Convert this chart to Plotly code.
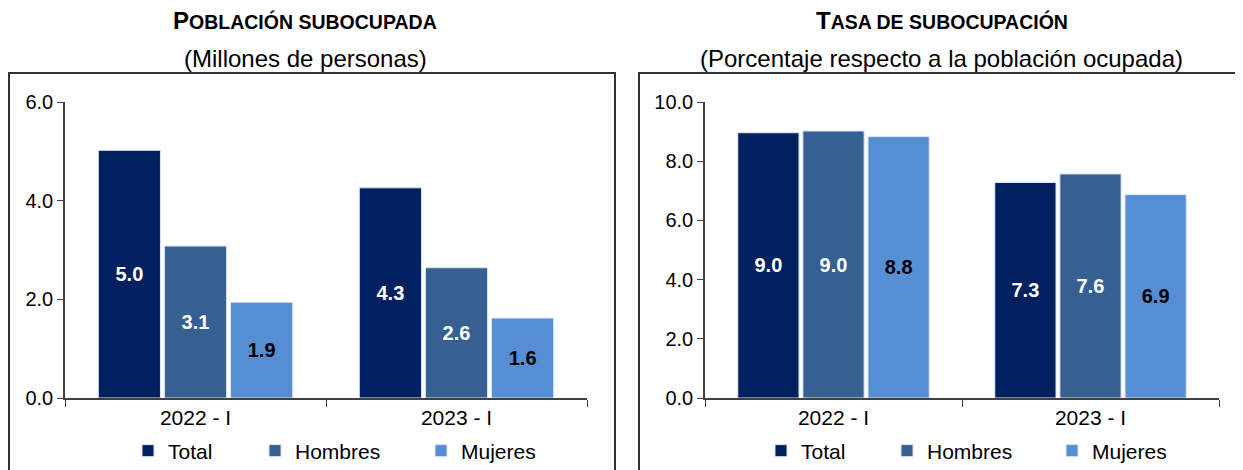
import plotly.graph_objects as go

categories = ["2022 - I", "2023 - I"]
series_names = ["Total", "Hombres", "Mujeres"]
colors = ["#002060", "#366092", "#558ED5"]
text_colors = ["white", "white", "black"]

poblacion_total = [5.02, 4.26]
poblacion_hombres = [3.08, 2.64]
poblacion_mujeres = [1.94, 1.62]

tasa_total = [8.96, 7.28]
tasa_hombres = [9.02, 7.57]
tasa_mujeres = [8.83, 6.87]

left_values = [poblacion_total, poblacion_hombres, poblacion_mujeres]
right_values = [tasa_total, tasa_hombres, tasa_mujeres]

W, H = 1243, 470
OFF = 8  # default page body margin
FONT = "Arial, Liberation Sans, sans-serif"


def px(p):
    return (p - OFF) / W


def py(p):
    return (H - (p - OFF)) / H


fig = go.Figure()

legend_text_x_left = [168, 295, 461]
legend_text_x_right = [801, 927, 1092]

for i, name in enumerate(series_names):
    fig.add_trace(go.Bar(
        x=categories, y=left_values[i], name=name,
        marker=dict(color=colors[i], line=dict(color="#DCE3EE", width=1)),
        texttemplate="<b>%{y:.1f}</b>", textposition="inside",
        insidetextanchor="middle", textangle=0, constraintext="none",
        textfont=dict(color=text_colors[i], size=20, family=FONT),
        xaxis="x", yaxis="y", legend="legend" if i == 0 else f"legend{i + 1}",
    ))
for i, name in enumerate(series_names):
    fig.add_trace(go.Bar(
        x=categories, y=right_values[i], name=name,
        marker=dict(color=colors[i], line=dict(color="#DCE3EE", width=1)),
        texttemplate="<b>%{y:.1f}</b>", textposition="inside",
        insidetextanchor="middle", textangle=0, constraintext="none",
        textfont=dict(color=text_colors[i], size=20, family=FONT),
        xaxis="x2", yaxis="y2", legend=f"legend{i + 4}",
    ))

ydom = [py(398), py(102)]
axis_color = "#404040"
common_x = dict(type="category", showline=True, linecolor=axis_color, linewidth=1.5,
                ticks="outside", tickson="boundaries", ticklen=7, tickcolor=axis_color,
                tickfont=dict(size=21, color="black", family=FONT), showgrid=False,
                fixedrange=True)
common_y = dict(showline=True, linecolor=axis_color, linewidth=1.5, ticks="outside",
                ticklen=6, tickcolor=axis_color, showgrid=False, zeroline=False,
                tickfont=dict(size=20, color="black", family=FONT), tickformat=".1f")

legend_common = dict(orientation="h", xanchor="left", yanchor="middle",
                     y=py(451), font=dict(size=21, family=FONT),
                     itemwidth=30, bgcolor="rgba(0,0,0,0)")

legends = {}
for i, tx in enumerate(legend_text_x_left + legend_text_x_right):
    key = "legend" if i == 0 else f"legend{i + 1}"
    legends[key] = dict(**legend_common, x=px(tx - 40))

fig.update_layout(
    width=W, height=H,
    margin=dict(l=0, r=0, t=0, b=0, autoexpand=False),
    paper_bgcolor="white", plot_bgcolor="white",
    font=dict(family=FONT, color="black"),
    barmode="group", bargap=0.24, bargroupgap=0.06,
    xaxis=dict(**common_x, anchor="y", domain=[px(65), px(587)]),
    yaxis=dict(**common_y, domain=ydom, range=[0, 6], dtick=2, anchor="x"),
    xaxis2=dict(**common_x, anchor="y2", domain=[px(705), px(1219)]),
    yaxis2=dict(**common_y, domain=ydom, range=[0, 10], dtick=2, anchor="x2"),
    showlegend=True,
    **legends,
)

# Panel frames
fig.add_shape(type="rect", xref="paper", yref="paper",
              x0=px(9), x1=px(615), y0=-0.1, y1=py(73),
              line=dict(color="#333333", width=2), fillcolor="rgba(0,0,0,0)", layer="below")
fig.add_shape(type="rect", xref="paper", yref="paper",
              x0=px(639), x1=1.05, y0=-0.1, y1=py(73),
              line=dict(color="#333333", width=2), fillcolor="rgba(0,0,0,0)", layer="below")

titles = [
    ("P", "OBLACIÓN SUBOCUPADA", "(Millones de personas)", 305),
    ("T", "ASA DE SUBOCUPACIÓN", "(Porcentaje respecto a la población ocupada)", 942),
]
for first, rest, sub, cx in titles:
    fig.add_annotation(
        x=px(cx), y=py(20), xref="paper", yref="paper",
        xanchor="center", yanchor="middle", showarrow=False,
        text=f"<b><span style='font-size:24px'>{first}</span>"
             f"<span style='font-size:19.5px'>{rest}</span></b>",
        font=dict(family=FONT, color="black", size=19.5),
    )
    fig.add_annotation(
        x=px(cx), y=py(58), xref="paper", yref="paper",
        xanchor="center", yanchor="middle", showarrow=False,
        text=sub, font=dict(family=FONT, color="black", size=24),
    )

fig.write_html("out.html")
